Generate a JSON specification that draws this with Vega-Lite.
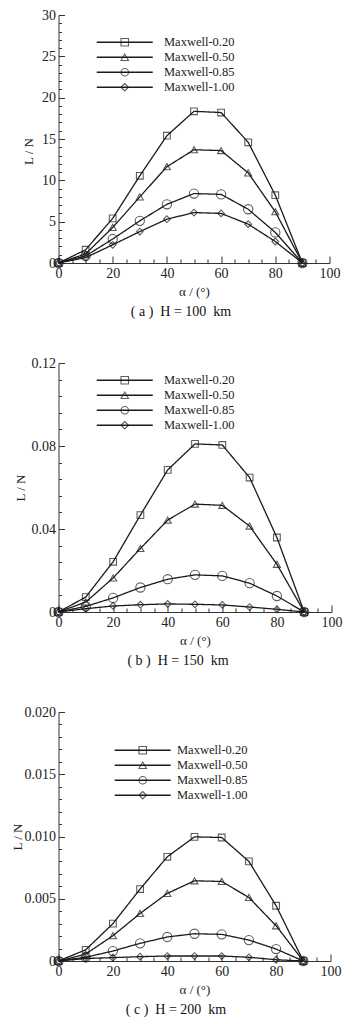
{
  "$schema": "https://vega.github.io/schema/vega-lite/v6.json",
  "padding": {"left": 10.5, "top": 8, "right": 5, "bottom": 5},
  "background": "white",
  "spacing": 37,
  "datasets": {
    "a": [
      {"alpha": 0, "series": "Maxwell-0.20", "L": 0}, {"alpha": 10, "series": "Maxwell-0.20", "L": 1.6}, {"alpha": 20, "series": "Maxwell-0.20", "L": 5.4}, {"alpha": 30, "series": "Maxwell-0.20", "L": 10.55}, {"alpha": 40, "series": "Maxwell-0.20", "L": 15.4}, {"alpha": 50, "series": "Maxwell-0.20", "L": 18.35}, {"alpha": 60, "series": "Maxwell-0.20", "L": 18.2}, {"alpha": 70, "series": "Maxwell-0.20", "L": 14.6}, {"alpha": 80, "series": "Maxwell-0.20", "L": 8.2}, {"alpha": 90, "series": "Maxwell-0.20", "L": 0},
      {"alpha": 0, "series": "Maxwell-0.50", "L": 0}, {"alpha": 10, "series": "Maxwell-0.50", "L": 1.1}, {"alpha": 20, "series": "Maxwell-0.50", "L": 4.3}, {"alpha": 30, "series": "Maxwell-0.50", "L": 8.0}, {"alpha": 40, "series": "Maxwell-0.50", "L": 11.65}, {"alpha": 50, "series": "Maxwell-0.50", "L": 13.7}, {"alpha": 60, "series": "Maxwell-0.50", "L": 13.6}, {"alpha": 70, "series": "Maxwell-0.50", "L": 10.9}, {"alpha": 80, "series": "Maxwell-0.50", "L": 6.2}, {"alpha": 90, "series": "Maxwell-0.50", "L": 0},
      {"alpha": 0, "series": "Maxwell-0.85", "L": 0}, {"alpha": 10, "series": "Maxwell-0.85", "L": 0.85}, {"alpha": 20, "series": "Maxwell-0.85", "L": 2.9}, {"alpha": 30, "series": "Maxwell-0.85", "L": 5.1}, {"alpha": 40, "series": "Maxwell-0.85", "L": 7.1}, {"alpha": 50, "series": "Maxwell-0.85", "L": 8.4}, {"alpha": 60, "series": "Maxwell-0.85", "L": 8.3}, {"alpha": 70, "series": "Maxwell-0.85", "L": 6.5}, {"alpha": 80, "series": "Maxwell-0.85", "L": 3.7}, {"alpha": 90, "series": "Maxwell-0.85", "L": 0},
      {"alpha": 0, "series": "Maxwell-1.00", "L": 0}, {"alpha": 10, "series": "Maxwell-1.00", "L": 0.65}, {"alpha": 20, "series": "Maxwell-1.00", "L": 2.2}, {"alpha": 30, "series": "Maxwell-1.00", "L": 3.8}, {"alpha": 40, "series": "Maxwell-1.00", "L": 5.3}, {"alpha": 50, "series": "Maxwell-1.00", "L": 6.1}, {"alpha": 60, "series": "Maxwell-1.00", "L": 6.0}, {"alpha": 70, "series": "Maxwell-1.00", "L": 4.7}, {"alpha": 80, "series": "Maxwell-1.00", "L": 2.6}, {"alpha": 90, "series": "Maxwell-1.00", "L": 0}
    ],
    "b": [
      {"alpha": 0, "series": "Maxwell-0.20", "L": 0}, {"alpha": 10, "series": "Maxwell-0.20", "L": 0.0072}, {"alpha": 20, "series": "Maxwell-0.20", "L": 0.0242}, {"alpha": 30, "series": "Maxwell-0.20", "L": 0.0467}, {"alpha": 40, "series": "Maxwell-0.20", "L": 0.0685}, {"alpha": 50, "series": "Maxwell-0.20", "L": 0.081}, {"alpha": 60, "series": "Maxwell-0.20", "L": 0.0805}, {"alpha": 70, "series": "Maxwell-0.20", "L": 0.0648}, {"alpha": 80, "series": "Maxwell-0.20", "L": 0.0359}, {"alpha": 90, "series": "Maxwell-0.20", "L": 0},
      {"alpha": 0, "series": "Maxwell-0.50", "L": 0}, {"alpha": 10, "series": "Maxwell-0.50", "L": 0.0048}, {"alpha": 20, "series": "Maxwell-0.50", "L": 0.0164}, {"alpha": 30, "series": "Maxwell-0.50", "L": 0.0306}, {"alpha": 40, "series": "Maxwell-0.50", "L": 0.0443}, {"alpha": 50, "series": "Maxwell-0.50", "L": 0.052}, {"alpha": 60, "series": "Maxwell-0.50", "L": 0.0514}, {"alpha": 70, "series": "Maxwell-0.50", "L": 0.0414}, {"alpha": 80, "series": "Maxwell-0.50", "L": 0.023}, {"alpha": 90, "series": "Maxwell-0.50", "L": 0},
      {"alpha": 0, "series": "Maxwell-0.85", "L": 0}, {"alpha": 10, "series": "Maxwell-0.85", "L": 0.0027}, {"alpha": 20, "series": "Maxwell-0.85", "L": 0.0068}, {"alpha": 30, "series": "Maxwell-0.85", "L": 0.0118}, {"alpha": 40, "series": "Maxwell-0.85", "L": 0.0158}, {"alpha": 50, "series": "Maxwell-0.85", "L": 0.0179}, {"alpha": 60, "series": "Maxwell-0.85", "L": 0.0174}, {"alpha": 70, "series": "Maxwell-0.85", "L": 0.0139}, {"alpha": 80, "series": "Maxwell-0.85", "L": 0.0077}, {"alpha": 90, "series": "Maxwell-0.85", "L": 0},
      {"alpha": 0, "series": "Maxwell-1.00", "L": 0}, {"alpha": 10, "series": "Maxwell-1.00", "L": 0.0016}, {"alpha": 20, "series": "Maxwell-1.00", "L": 0.0029}, {"alpha": 30, "series": "Maxwell-1.00", "L": 0.0035}, {"alpha": 40, "series": "Maxwell-1.00", "L": 0.0039}, {"alpha": 50, "series": "Maxwell-1.00", "L": 0.0037}, {"alpha": 60, "series": "Maxwell-1.00", "L": 0.0034}, {"alpha": 70, "series": "Maxwell-1.00", "L": 0.0024}, {"alpha": 80, "series": "Maxwell-1.00", "L": 0.0013}, {"alpha": 90, "series": "Maxwell-1.00", "L": 0}
    ],
    "c": [
      {"alpha": 0, "series": "Maxwell-0.20", "L": 0}, {"alpha": 10, "series": "Maxwell-0.20", "L": 0.0009}, {"alpha": 20, "series": "Maxwell-0.20", "L": 0.003}, {"alpha": 30, "series": "Maxwell-0.20", "L": 0.00578}, {"alpha": 40, "series": "Maxwell-0.20", "L": 0.00837}, {"alpha": 50, "series": "Maxwell-0.20", "L": 0.00997}, {"alpha": 60, "series": "Maxwell-0.20", "L": 0.00992}, {"alpha": 70, "series": "Maxwell-0.20", "L": 0.008}, {"alpha": 80, "series": "Maxwell-0.20", "L": 0.00444}, {"alpha": 90, "series": "Maxwell-0.20", "L": 0},
      {"alpha": 0, "series": "Maxwell-0.50", "L": 0}, {"alpha": 10, "series": "Maxwell-0.50", "L": 0.00056}, {"alpha": 20, "series": "Maxwell-0.50", "L": 0.00203}, {"alpha": 30, "series": "Maxwell-0.50", "L": 0.00382}, {"alpha": 40, "series": "Maxwell-0.50", "L": 0.00543}, {"alpha": 50, "series": "Maxwell-0.50", "L": 0.00644}, {"alpha": 60, "series": "Maxwell-0.50", "L": 0.00639}, {"alpha": 70, "series": "Maxwell-0.50", "L": 0.0051}, {"alpha": 80, "series": "Maxwell-0.50", "L": 0.00283}, {"alpha": 90, "series": "Maxwell-0.50", "L": 0},
      {"alpha": 0, "series": "Maxwell-0.85", "L": 0}, {"alpha": 10, "series": "Maxwell-0.85", "L": 0.0003}, {"alpha": 20, "series": "Maxwell-0.85", "L": 0.0008}, {"alpha": 30, "series": "Maxwell-0.85", "L": 0.00142}, {"alpha": 40, "series": "Maxwell-0.85", "L": 0.00193}, {"alpha": 50, "series": "Maxwell-0.85", "L": 0.00219}, {"alpha": 60, "series": "Maxwell-0.85", "L": 0.00214}, {"alpha": 70, "series": "Maxwell-0.85", "L": 0.00168}, {"alpha": 80, "series": "Maxwell-0.85", "L": 0.00096}, {"alpha": 90, "series": "Maxwell-0.85", "L": 0},
      {"alpha": 0, "series": "Maxwell-1.00", "L": 0}, {"alpha": 10, "series": "Maxwell-1.00", "L": 0.0002}, {"alpha": 20, "series": "Maxwell-1.00", "L": 0.00027}, {"alpha": 30, "series": "Maxwell-1.00", "L": 0.00035}, {"alpha": 40, "series": "Maxwell-1.00", "L": 0.0004}, {"alpha": 50, "series": "Maxwell-1.00", "L": 0.0004}, {"alpha": 60, "series": "Maxwell-1.00", "L": 0.0004}, {"alpha": 70, "series": "Maxwell-1.00", "L": 0.0003}, {"alpha": 80, "series": "Maxwell-1.00", "L": 0.0001}, {"alpha": 90, "series": "Maxwell-1.00", "L": 0}
    ]
  },
  "vconcat": [
    {
      "width": 271, "height": 248,
      "data": {"name": "a"},
      "title": {"text": "( a )\u2002H = 100\u2002km", "orient": "bottom", "frame": "bounds", "anchor": "middle", "offset": 7},
      "encoding": {
        "x": {"field": "alpha", "type": "quantitative", "scale": {"domain": [0, 100], "nice": false},
          "axis": {"title": "α / (°)", "values": [0,5,10,15,20,25,30,35,40,45,50,55,60,65,70,75,80,85,90,95,100],
            "labelExpr": "datum.value % 20 === 0 ? datum.label : ''",
            "tickSize": {"condition": {"test": "datum.value % 20 === 0", "value": -7}, "value": -4}}},
        "y": {"field": "L", "type": "quantitative", "scale": {"domain": [0, 30], "nice": false},
          "axis": {"title": "L / N", "values": [0,1,2,3,4,5,6,7,8,9,10,11,12,13,14,15,16,17,18,19,20,21,22,23,24,25,26,27,28,29,30],
            "labelExpr": "datum.value % 5 === 0 ? datum.label : ''",
            "tickSize": {"condition": {"test": "datum.value % 5 === 0", "value": -6}, "value": -3}, "titlePadding": 6.5, "titleY": 136}}
      },
      "layer": [
        {"mark": {"type": "line", "color": "#1a1a1a", "strokeWidth": 1.3},
          "encoding": {"strokeDash": {"field": "series", "type": "nominal", "scale": {"range": [[1, 0], [1, 0], [1, 0], [1, 0]]},
            "legend": {"orient": "none", "legendX": 60, "legendY": 21, "title": null, "padding": 0, "symbolType": "M-7,0H7", "symbolSize": 64, "rowPadding": 2, "labelOffset": 33, "labelColor": "transparent", "symbolStrokeColor": "#1a1a1a", "symbolStrokeWidth": 1.3}}}},
        {"transform": [{"filter": {"field": "series", "equal": "Maxwell-0.20"}}], "mark": {"type": "point", "filled": false, "color": "#1a1a1a", "strokeWidth": 1.1, "size": 45},
          "encoding": {"shape": {"field": "series", "type": "nominal", "scale": {"domain": ["Maxwell-0.20","Maxwell-0.50","Maxwell-0.85","Maxwell-1.00"], "range": ["square","triangle-up","circle","diamond"]},
            "legend": {"orient": "none", "legendX": 60, "legendY": 21, "title": null, "padding": 0, "symbolSize": 56, "rowPadding": 2, "labelOffset": 33, "symbolStrokeColor": "#1a1a1a", "symbolStrokeWidth": 1.1, "symbolFillColor": "transparent"}}}},
        {"transform": [{"filter": {"field": "series", "equal": "Maxwell-0.50"}}], "mark": {"type": "point", "filled": false, "color": "#1a1a1a", "strokeWidth": 1.1, "size": 50, "shape": "triangle-up"}, "encoding": {}},
        {"transform": [{"filter": {"field": "series", "equal": "Maxwell-0.85"}}], "mark": {"type": "point", "filled": false, "color": "#1a1a1a", "strokeWidth": 1.1, "size": 85, "shape": "circle"}, "encoding": {}},
        {"transform": [{"filter": {"field": "series", "equal": "Maxwell-1.00"}}], "mark": {"type": "point", "filled": false, "color": "#1a1a1a", "strokeWidth": 1.1, "size": 45, "shape": "diamond"}, "encoding": {}}
      ]
    },
    {
      "width": 273, "height": 249,
      "data": {"name": "b"},
      "title": {"text": "( b )\u2002H = 150\u2002km", "orient": "bottom", "frame": "bounds", "anchor": "middle", "offset": 7},
      "encoding": {
        "x": {"field": "alpha", "type": "quantitative", "scale": {"domain": [0, 100], "nice": false},
          "axis": {"title": "α / (°)", "values": [0,5,10,15,20,25,30,35,40,45,50,55,60,65,70,75,80,85,90,95,100],
            "labelExpr": "datum.value % 20 === 0 ? datum.label : ''",
            "tickSize": {"condition": {"test": "datum.value % 20 === 0", "value": -7}, "value": -4}}},
        "y": {"field": "L", "type": "quantitative", "scale": {"domain": [0, 0.12], "nice": false},
          "axis": {"title": "L / N", "values": [0,0.008,0.016,0.024,0.032,0.04,0.048,0.056,0.064,0.072,0.08,0.088,0.096,0.104,0.112,0.12],
            "labelExpr": "abs(datum.value*25 - round(datum.value*25)) < 1e-6 ? (datum.value == 0 ? '0' : format(datum.value, '.2f')) : ''",
            "tickSize": {"condition": {"test": "abs(datum.value*25 - round(datum.value*25)) < 1e-6", "value": -6}, "value": -3}, "titlePadding": 4}}
      },
      "layer": [
        {"mark": {"type": "line", "color": "#1a1a1a", "strokeWidth": 1.3},
          "encoding": {"strokeDash": {"field": "series", "type": "nominal", "scale": {"range": [[1, 0], [1, 0], [1, 0], [1, 0]]},
            "legend": {"orient": "none", "legendX": 60, "legendY": 11, "title": null, "padding": 0, "symbolType": "M-7,0H7", "symbolSize": 64, "rowPadding": 2, "labelOffset": 33, "labelColor": "transparent", "symbolStrokeColor": "#1a1a1a", "symbolStrokeWidth": 1.3}}}},
        {"transform": [{"filter": {"field": "series", "equal": "Maxwell-0.20"}}], "mark": {"type": "point", "filled": false, "color": "#1a1a1a", "strokeWidth": 1.1, "size": 45},
          "encoding": {"shape": {"field": "series", "type": "nominal", "scale": {"domain": ["Maxwell-0.20","Maxwell-0.50","Maxwell-0.85","Maxwell-1.00"], "range": ["square","triangle-up","circle","diamond"]},
            "legend": {"orient": "none", "legendX": 60, "legendY": 11, "title": null, "padding": 0, "symbolSize": 56, "rowPadding": 2, "labelOffset": 33, "symbolStrokeColor": "#1a1a1a", "symbolStrokeWidth": 1.1, "symbolFillColor": "transparent"}}}},
        {"transform": [{"filter": {"field": "series", "equal": "Maxwell-0.50"}}], "mark": {"type": "point", "filled": false, "color": "#1a1a1a", "strokeWidth": 1.1, "size": 50, "shape": "triangle-up"}, "encoding": {}},
        {"transform": [{"filter": {"field": "series", "equal": "Maxwell-0.85"}}], "mark": {"type": "point", "filled": false, "color": "#1a1a1a", "strokeWidth": 1.1, "size": 85, "shape": "circle"}, "encoding": {}},
        {"transform": [{"filter": {"field": "series", "equal": "Maxwell-1.00"}}], "mark": {"type": "point", "filled": false, "color": "#1a1a1a", "strokeWidth": 1.1, "size": 45, "shape": "diamond"}, "encoding": {}}
      ]
    },
    {
      "width": 272, "height": 249,
      "data": {"name": "c"},
      "title": {"text": "( c )\u2002H = 200\u2002km", "orient": "bottom", "frame": "bounds", "anchor": "middle", "offset": 7},
      "encoding": {
        "x": {"field": "alpha", "type": "quantitative", "scale": {"domain": [0, 100], "nice": false},
          "axis": {"title": "α / (°)", "values": [0,5,10,15,20,25,30,35,40,45,50,55,60,65,70,75,80,85,90,95,100],
            "labelExpr": "datum.value % 20 === 0 ? datum.label : ''",
            "tickSize": {"condition": {"test": "datum.value % 20 === 0", "value": -7}, "value": -4}}},
        "y": {"field": "L", "type": "quantitative", "scale": {"domain": [0, 0.02], "nice": false},
          "axis": {"title": "L / N", "values": [0,0.001,0.002,0.003,0.004,0.005,0.006,0.007,0.008,0.009,0.01,0.011,0.012,0.013,0.014,0.015,0.016,0.017,0.018,0.019,0.02],
            "labelExpr": "abs(datum.value*200 - round(datum.value*200)) < 1e-6 ? (datum.value == 0 ? '0' : format(datum.value, '.3f')) : ''",
            "tickSize": {"condition": {"test": "abs(datum.value*200 - round(datum.value*200)) < 1e-6", "value": -6}, "value": -3}, "titlePadding": 0}}
      },
      "layer": [
        {"mark": {"type": "line", "color": "#1a1a1a", "strokeWidth": 1.3},
          "encoding": {"strokeDash": {"field": "series", "type": "nominal", "scale": {"range": [[1, 0], [1, 0], [1, 0], [1, 0]]},
            "legend": {"orient": "none", "legendX": 78, "legendY": 32, "title": null, "padding": 0, "symbolType": "M-7,0H7", "symbolSize": 64, "rowPadding": 2, "labelOffset": 28, "labelColor": "transparent", "symbolStrokeColor": "#1a1a1a", "symbolStrokeWidth": 1.3}}}},
        {"transform": [{"filter": {"field": "series", "equal": "Maxwell-0.20"}}], "mark": {"type": "point", "filled": false, "color": "#1a1a1a", "strokeWidth": 1.1, "size": 45},
          "encoding": {"shape": {"field": "series", "type": "nominal", "scale": {"domain": ["Maxwell-0.20","Maxwell-0.50","Maxwell-0.85","Maxwell-1.00"], "range": ["square","triangle-up","circle","diamond"]},
            "legend": {"orient": "none", "legendX": 78, "legendY": 32, "title": null, "padding": 0, "symbolSize": 56, "rowPadding": 2, "labelOffset": 28, "symbolStrokeColor": "#1a1a1a", "symbolStrokeWidth": 1.1, "symbolFillColor": "transparent"}}}},
        {"transform": [{"filter": {"field": "series", "equal": "Maxwell-0.50"}}], "mark": {"type": "point", "filled": false, "color": "#1a1a1a", "strokeWidth": 1.1, "size": 50, "shape": "triangle-up"}, "encoding": {}},
        {"transform": [{"filter": {"field": "series", "equal": "Maxwell-0.85"}}], "mark": {"type": "point", "filled": false, "color": "#1a1a1a", "strokeWidth": 1.1, "size": 85, "shape": "circle"}, "encoding": {}},
        {"transform": [{"filter": {"field": "series", "equal": "Maxwell-1.00"}}], "mark": {"type": "point", "filled": false, "color": "#1a1a1a", "strokeWidth": 1.1, "size": 45, "shape": "diamond"}, "encoding": {}}
      ]
    }
  ],
  "resolve": {"scale": {"x": "independent", "y": "independent", "shape": "independent", "strokeDash": "independent"}, "legend": {"shape": "independent", "strokeDash": "independent"}},
  "config": {
    "view": {"stroke": null},
    "font": "Liberation Serif",
    "title": {"font": "Liberation Serif", "fontSize": 14, "fontWeight": "normal", "color": "#111"},
    "axis": {"grid": false, "domainColor": "#333", "tickColor": "#333", "tickWidth": 1, "domainWidth": 1,
      "labelFont": "Liberation Serif", "labelFontSize": 14, "labelColor": "#222", "labelOverlap": false, "labelFlush": false, "labelBound": false,
      "titleFont": "Liberation Serif", "titleFontSize": 13, "titleFontWeight": "normal", "titleColor": "#222"},
    "axisX": {"titlePadding": 2, "labelPadding": 10},
    "axisY": {"labelPadding": 9},
    "legend": {"labelFont": "Liberation Serif", "labelFontSize": 12.5, "labelColor": "#222"}
  }
}
